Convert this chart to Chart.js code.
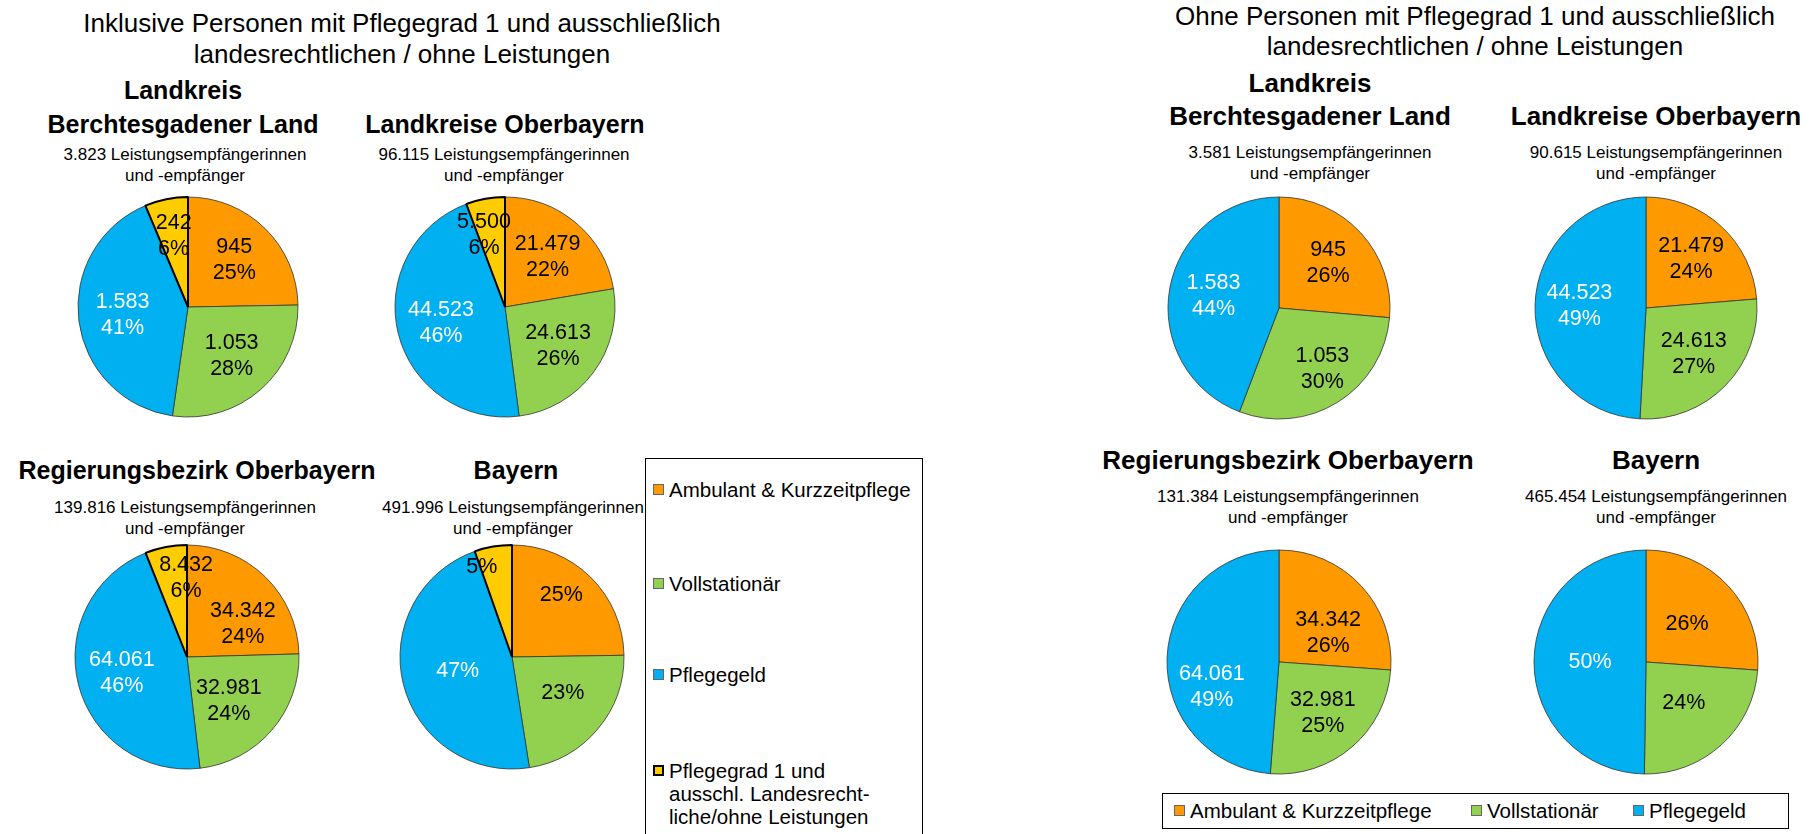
<!DOCTYPE html>
<html lang="de">
<head>
<meta charset="utf-8">
<script src="https://cdn.jsdelivr.net/npm/chart.js@4.4.1/dist/chart.umd.min.js"></script>
<style>
  body { margin: 0; width: 1818px; height: 834px; background: #fff; position: relative; overflow: hidden;
         font-family: "Liberation Sans", Arial, sans-serif; color: #000; }
  .txt { position: absolute; transform: translateX(-50%); white-space: nowrap; text-align: center; }
  .title { font-size: 26px; }
  .head { font-size: 25px; font-weight: bold; }
  .head2 { font-size: 26px; font-weight: bold; }
  .count { font-size: 17px; }
  canvas { position: absolute; }
  .legend { position: absolute; border: 1.5px solid #000; box-sizing: border-box; background: #fff; }
  .item { position: absolute; font-size: 20.5px; line-height: 23px; white-space: nowrap; }
  .sw { position: absolute; width: 11px; height: 11px; border: 1px solid #555; box-sizing: border-box; }
</style>
</head>
<body>
<script>
/* ================================
     Daten (Leistungsempfänger nach Leistungsart)
   =================================*/
const categories = ["Ambulant & Kurzzeitpflege", "Vollstationär", "Pflegegeld",
                    "Pflegegrad 1 und ausschl. Landesrecht-liche/ohne Leistungen"];
const regions = [["Landkreis", "Berchtesgadener Land"], ["Landkreise Oberbayern"],
                 ["Regierungsbezirk Oberbayern"], ["Bayern"]];
const berchtesgaden   = [945, 1053, 1583, 242];
const landkreiseOby   = [21479, 24613, 44523, 5500];
const regbezOby       = [34342, 32981, 64061, 8432];
const bayern          = [121800, 112000, 231654, 26542];   // nur Anteile ablesbar -> geschätzt
const showValues      = [true, true, true, false];          // Bayern nur mit Prozent

const colors      = ["#FF9900", "#92D050", "#00B0F0", "#FFCC00"];
const labelColors = ["#000", "#000", "#fff", "#000"];

// Excel verschiebt einzelne Beschriftungen ("beste Anpassung") - kleine Korrekturen in px
const labelNudge = {
  "L1-3": [-8, 0],
  "L2-0": [9, 15], "L2-1": [-9, 0], "L2-3": [13, -6],
  "L3-0": [10, -22], "L3-1": [8, 0], "L3-3": [-15, -2],
  "R0-1": [8, 5],
  "R2-0": [0, 17], "R2-2": [0, 28]
};

/* ================================
     Hilfsfunktionen
   =================================*/
const fmt = n => String(n).replace(/\B(?=(\d{3})+(?!\d))/g, ".");

// Prozente wie Excel (Summe = 100, größter Rest)
function percents(vals) {
  const total = vals.reduce((a, b) => a + b, 0);
  const raw = vals.map(v => v / total * 100);
  const out = raw.map(Math.floor);
  let rest = 100 - out.reduce((a, b) => a + b, 0);
  raw.map((v, i) => [v - Math.floor(v), i]).sort((a, b) => b[0] - a[0])
     .slice(0, rest).forEach(([, i]) => out[i]++);
  return out;
}

function text(x, y, lines, cls, lh) {
  const d = document.createElement("div");
  d.className = "txt " + cls;
  d.style.left = x + "px";
  d.style.top = (y - lh / 2) + "px";
  d.style.lineHeight = lh + "px";
  d.innerHTML = lines.join("<br>");
  document.body.appendChild(d);
}

// Beschriftung der Segmente
const sliceLabels = {
  id: "sliceLabels",
  afterDatasetsDraw(chart) {
    const ctx = chart.ctx;
    const meta = chart.getDatasetMeta(0);
    const ds = chart.data.datasets[0];
    ctx.save();
    ctx.font = "21.5px 'Liberation Sans', Arial, sans-serif";
    ctx.textAlign = "center";
    ctx.textBaseline = "middle";
    meta.data.forEach((arc, i) => {
      const p = arc.getProps(["startAngle", "endAngle", "outerRadius", "x", "y"], true);
      const pct = ds.pct[i];
      const lines = ds.withValues ? [fmt(ds.data[i]), pct + "%"] : [pct + "%"];
      const small = pct < 8;
      let f = small ? 0.66 : 0.6;
      if (lines.length === 1) f = small ? 0.8 : 0.5;
      const mid = (p.startAngle + p.endAngle) / 2;
      const nudge = labelNudge[ds.key + "-" + i] || [0, 0];
      const cx = p.x + Math.cos(mid) * p.outerRadius * f + nudge[0];
      const cy = p.y + Math.sin(mid) * p.outerRadius * f + nudge[1];
      ctx.fillStyle = labelColors[i];
      lines.forEach((t, k) => ctx.fillText(t, cx, cy + (k - (lines.length - 1) / 2) * 26));
    });
    ctx.restore();
  }
};

function pie(key, cx, cy, r, vals, withValues) {
  const size = 2 * r + 20;
  const c = document.createElement("canvas");
  c.width = size; c.height = size;
  c.style.left = (cx - size / 2) + "px";
  c.style.top = (cy - size / 2) + "px";
  c.style.width = size + "px"; c.style.height = size + "px";
  document.body.appendChild(c);
  const n = vals.length;
  new Chart(c.getContext("2d"), {
    type: "pie",
    data: {
      labels: categories.slice(0, n),
      datasets: [{
        key: key,
        data: vals,
        pct: percents(vals),
        withValues: withValues,
        backgroundColor: colors.slice(0, n),
        borderColor: ["#333", "#333", "#333", "#000"].slice(0, n),
        borderWidth: [0.8, 0.8, 0.8, 2].slice(0, n),
        hoverOffset: 0,
        radius: r
      }]
    },
    options: {
      responsive: false,
      animation: false,
      events: [],
      layout: { padding: 0 },
      plugins: { legend: { display: false }, tooltip: { enabled: false } }
    },
    plugins: [sliceLabels]
  });
}

function legend(box, items) {
  const d = document.createElement("div");
  d.className = "legend";
  Object.assign(d.style, { left: box[0] + "px", top: box[1] + "px", width: box[2] + "px", height: box[3] + "px" });
  document.body.appendChild(d);
  items.forEach(([i, x, y, lines]) => {
    const sw = document.createElement("div");
    sw.className = "sw";
    sw.style.background = colors[i];
    sw.style.borderColor = i === 3 ? "#000" : "#666";
    if (i === 3) sw.style.borderWidth = "2px";
    sw.style.left = (x - box[0]) + "px";
    sw.style.top = (y - box[1] - 6) + "px";
    d.appendChild(sw);
    const t = document.createElement("div");
    t.className = "item";
    t.style.left = (x - box[0] + 16) + "px";
    t.style.top = (y - box[1] - 12) + "px";
    t.innerHTML = lines.join("<br>");
    d.appendChild(t);
  });
}

/* ================================
     Aufbau
   =================================*/
const all = [berchtesgaden, landkreiseOby, regbezOby, bayern];
const total = v => v.reduce((a, b) => a + b, 0);

// linke Hälfte: inklusive Pflegegrad 1
text(402, 23, ["Inklusive Personen mit Pflegegrad 1 und ausschließlich", "landesrechtlichen / ohne Leistungen"], "title", 31);
const leftPos = [[188, 307, 110, 124, 154], [505, 307, 110, 124, 154], [187, 657, 112, 470, 507], [512, 657, 112, 470, 507]];
const leftHeadX = [183, 505, 197, 516];
const leftCountX = [185, 504, 185, 513];
all.forEach((vals, k) => {
  const [cx, cy, r, hy, ty] = leftPos[k];
  const h = regions[k];
  text(leftHeadX[k], hy - (h.length - 1) * 34, h, "head", 34);
  text(leftCountX[k], ty, [fmt(total(vals)) + " Leistungsempfängerinnen", "und -empfänger"], "count", 21);
  pie("L" + k, cx, cy, r, vals, showValues[k]);
});
legend([645, 458, 278, 400], [
  [0, 652, 489, ["Ambulant &amp; Kurzzeitpflege"]],
  [1, 652, 583, ["Vollstationär"]],
  [2, 652, 674, ["Pflegegeld"]],
  [3, 652, 770, ["Pflegegrad 1 und", "ausschl. Landesrecht-", "liche/ohne Leistungen"]]
]);

// rechte Hälfte: ohne Pflegegrad 1
text(1475, 16, ["Ohne Personen mit Pflegegrad 1 und ausschließlich", "landesrechtlichen / ohne Leistungen"], "title", 30);
const rightPos = [[1279, 308, 111, 116, 152], [1646, 308, 111, 116, 152], [1279, 662, 112, 460, 496], [1646, 662, 112, 460, 496]];
const rightHeadX = [1310, 1656, 1288, 1656];
const rightCountX = [1310, 1656, 1288, 1656];
all.forEach((vals, k) => {
  const v = vals.slice(0, 3);
  const [cx, cy, r, hy, ty] = rightPos[k];
  const h = regions[k];
  text(rightHeadX[k], hy - (h.length - 1) * 33, h, "head2", 33);
  text(rightCountX[k], ty, [fmt(total(v)) + " Leistungsempfängerinnen", "und -empfänger"], "count", 21);
  pie("R" + k, cx, cy, r, v, showValues[k]);
});
legend([1162, 793, 627, 36], [
  [0, 1173, 810, ["Ambulant &amp; Kurzzeitpflege"]],
  [1, 1470, 810, ["Vollstationär"]],
  [2, 1632, 810, ["Pflegegeld"]]
]);
</script>
</body>
</html>
